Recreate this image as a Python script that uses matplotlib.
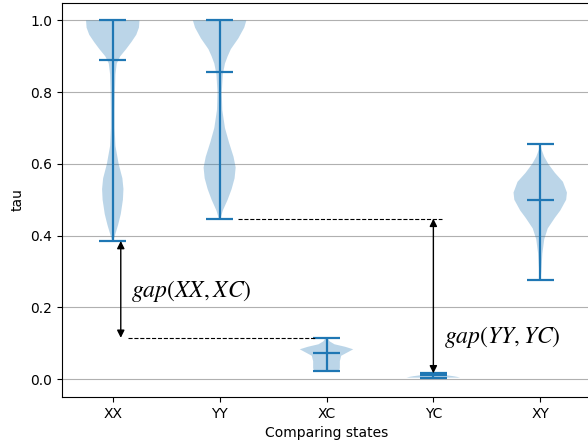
import matplotlib
matplotlib.use('Agg')
import matplotlib.pyplot as plt
import numpy as np

plt.rcParams['mathtext.fontset'] = 'stix'

# categories
states = ['XX', 'YY', 'XC', 'YC', 'XY']

# density profiles (tau value, relative width)
xx_y = [0.385, 0.40, 0.43, 0.46, 0.50, 0.53, 0.56, 0.60, 0.65, 0.70, 0.75, 0.80,
        0.85, 0.88, 0.90, 0.92, 0.94, 0.96, 0.98, 1.00]
xx_w = [0.02, 0.08, 0.20, 0.30, 0.38, 0.40, 0.36, 0.22, 0.10, 0.07, 0.07, 0.08,
        0.10, 0.15, 0.28, 0.50, 0.70, 0.88, 0.98, 1.00]

yy_y = [0.447, 0.47, 0.50, 0.53, 0.56, 0.59, 0.62, 0.66, 0.70, 0.75, 0.80, 0.85,
        0.88, 0.90, 0.92, 0.95, 0.98, 1.00]
yy_w = [0.03, 0.12, 0.30, 0.45, 0.56, 0.60, 0.52, 0.35, 0.20, 0.10, 0.08, 0.12,
        0.20, 0.30, 0.42, 0.70, 0.92, 1.00]

xc_y = [0.022, 0.03, 0.05, 0.065, 0.075, 0.083, 0.09, 0.097, 0.105, 0.115]
xc_w = [0.45, 0.50, 0.50, 0.55, 0.80, 1.00, 0.70, 0.30, 0.12, 0.03]

yc_y = [0.004, 0.006, 0.008, 0.010, 0.012, 0.014, 0.016]
yc_w = [1.00, 0.90, 0.75, 0.55, 0.35, 0.20, 0.05]

xy_y = [0.275, 0.30, 0.35, 0.39, 0.42, 0.45, 0.47, 0.50, 0.52, 0.55, 0.575,
        0.60, 0.62, 0.64, 0.655]
xy_w = [0.01, 0.04, 0.08, 0.15, 0.28, 0.55, 0.75, 0.97, 1.00, 0.85, 0.55,
        0.30, 0.15, 0.05, 0.01]

# summary stats (mean, min, max)
means = [0.89, 0.855, 0.072, 0.010, 0.498]
mins = [0.385, 0.447, 0.022, 0.004, 0.275]
maxs = [1.0, 1.0, 0.115, 0.016, 0.655]

profiles = [(xx_y, xx_w), (yy_y, yy_w), (xc_y, xc_w), (yc_y, yc_w), (xy_y, xy_w)]
vpstats = []
for (cy, cw), mu, lo, hi in zip(profiles, means, mins, maxs):
    vpstats.append({'coords': np.array(cy), 'vals': np.array(cw),
                    'mean': mu, 'median': mu, 'min': lo, 'max': hi})

fig = plt.figure(figsize=(5.88, 4.46), dpi=100)
ax = fig.add_axes([62/588, 49/446, 529/588, 394.5/446])
pos = np.arange(1, len(states) + 1)
parts = ax.violin(vpstats, positions=pos, widths=0.5, showmeans=True, showextrema=True)
for key in ['cmeans', 'cmins', 'cmaxes', 'cbars']:
    parts[key].set_linewidth(1.6)

ax.set_xticks(pos)
ax.set_xticklabels(states)
ax.set_xlim(0.525, 5.475)
ax.set_ylim(-0.05, 1.05)
ax.yaxis.grid(True)
ax.set_axisbelow(True)
ax.set_xlabel('Comparing states')
ax.set_ylabel('tau')

# gap(XX, XC)
ax.plot([1.14, 2.89], [maxs[2], maxs[2]], 'k--', lw=0.8)
ax.annotate('', xy=(1.075, mins[0]), xytext=(1.075, maxs[2]),
            arrowprops=dict(arrowstyle='<|-|>', color='k', lw=1,
                            shrinkA=0, shrinkB=0, mutation_scale=11))
ax.text(1.17, 0.245, r'$gap(XX,XC)$', fontsize=17, va='center', ha='left')

# gap(YY, YC)
ax.plot([2.17, 4.08], [mins[1], mins[1]], 'k--', lw=0.8)
ax.annotate('', xy=(4.0, mins[1]), xytext=(4.0, maxs[3]),
            arrowprops=dict(arrowstyle='<|-|>', color='k', lw=1,
                            shrinkA=0, shrinkB=0, mutation_scale=11))
ax.text(4.1, 0.117, r'$gap(YY,YC)$', fontsize=17, va='center', ha='left')

fig.savefig('out.png', dpi=100)
